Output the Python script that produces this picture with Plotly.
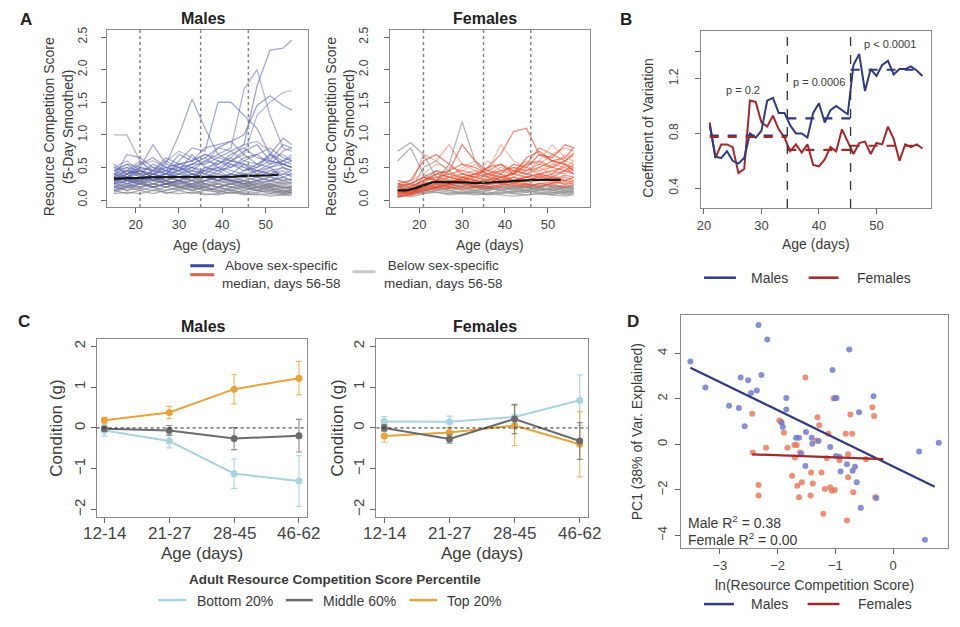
import plotly.graph_objects as go

# page body has an 8px default margin: size the figure so the page is exactly 960x627
OFF = 8
FW, FH = 960 - 2 * OFF, 627 - 2 * OFF
def px(x): return (x - OFF) / FW
def py(y): return 1 - (y - OFF) / FH

FONT = "Liberation Sans, Arial, sans-serif"
NARROW = "Liberation Sans Narrow, Arial Narrow, Liberation Sans, sans-serif"
TXT = "#3a3a3a"

# ---------------- Panel A data ----------------
ages_a = [15, 18, 21, 24, 27, 30, 33, 36, 39, 42, 45, 48, 51, 54, 56]
male_above = [
    [0.35, 0.45, 0.40, 0.40, 0.45, 0.50, 0.55, 0.55, 0.65, 0.75, 0.85, 1.75, 2.30, 2.33, 2.45],
    [0.30, 0.35, 0.45, 0.50, 0.40, 0.45, 0.50, 0.60, 0.70, 0.80, 1.70, 2.00, 1.30, 0.80, 0.75],
    [0.40, 0.50, 0.45, 0.40, 0.55, 1.00, 1.55, 1.10, 0.70, 0.60, 0.55, 0.50, 0.60, 0.55, 0.50],
    [0.30, 0.35, 0.50, 0.45, 0.40, 0.60, 0.80, 0.75, 1.50, 1.50, 1.30, 1.10, 0.70, 0.60, 0.55],
    [0.25, 0.30, 0.35, 0.45, 0.50, 0.55, 0.60, 0.70, 0.65, 0.60, 0.70, 1.30, 1.50, 1.65, 1.68],
    [0.35, 0.30, 0.30, 0.40, 0.50, 0.45, 0.55, 0.65, 0.80, 0.90, 1.00, 1.45, 1.60, 1.45, 1.38],
    [1.00, 1.00, 0.60, 0.45, 0.40, 0.35, 0.40, 0.35, 0.30, 0.35, 0.40, 0.35, 0.45, 0.50, 0.45],
    [0.45, 0.55, 0.50, 0.85, 0.55, 0.50, 0.45, 0.60, 0.55, 0.70, 0.80, 0.65, 0.60, 0.85, 0.80],
    [0.35, 0.70, 0.65, 0.50, 0.45, 0.70, 0.60, 0.80, 0.85, 0.90, 0.70, 0.55, 0.70, 0.95, 0.85],
    [0.50, 0.60, 0.45, 0.35, 0.60, 0.75, 0.65, 0.55, 0.80, 0.75, 0.60, 0.55, 0.65, 0.70, 0.60],
    [0.30, 0.40, 0.55, 0.65, 0.50, 0.45, 0.70, 0.50, 0.45, 0.60, 0.75, 0.85, 0.60, 0.55, 0.50],
    [0.40, 0.45, 0.35, 0.30, 0.35, 0.50, 0.40, 0.45, 0.50, 0.45, 0.40, 0.45, 0.55, 0.75, 0.80],
    [0.20, 0.30, 0.25, 0.35, 0.30, 0.40, 0.35, 0.45, 0.40, 0.55, 0.50, 0.45, 0.40, 0.50, 0.45],
    [0.55, 0.40, 0.50, 0.45, 0.65, 0.55, 0.60, 0.70, 0.60, 0.50, 0.65, 0.70, 0.55, 0.60, 0.65],
    [0.25, 0.35, 0.30, 0.40, 0.45, 0.35, 0.45, 0.40, 0.55, 0.65, 0.85, 0.90, 0.75, 0.50, 0.40],
    [0.45, 0.35, 0.40, 0.55, 0.45, 0.40, 0.50, 0.45, 0.60, 0.55, 0.45, 0.50, 0.70, 0.55, 0.50],
    [0.30, 0.45, 0.60, 0.40, 0.35, 0.45, 0.55, 0.65, 0.50, 0.60, 0.55, 0.40, 0.50, 0.60, 0.70],
    [0.40, 0.30, 0.35, 0.45, 0.60, 0.50, 0.40, 0.35, 0.45, 0.50, 0.60, 0.70, 0.80, 0.65, 0.60],
    [0.25, 0.40, 0.45, 0.35, 0.40, 0.55, 0.50, 0.40, 0.35, 0.40, 0.35, 0.45, 0.40, 0.45, 0.35],
    [0.50, 0.45, 0.55, 0.60, 0.50, 0.45, 0.35, 0.50, 0.55, 0.65, 0.50, 0.40, 0.45, 0.40, 0.45],
    [0.35, 0.25, 0.30, 0.35, 0.25, 0.30, 0.40, 0.35, 0.30, 0.35, 0.45, 0.55, 0.50, 0.35, 0.30],
    [0.20, 0.25, 0.35, 0.30, 0.40, 0.35, 0.30, 0.50, 0.45, 0.35, 0.40, 0.35, 0.30, 0.40, 0.38],
    [0.45, 0.55, 0.40, 0.30, 0.35, 0.40, 0.45, 0.40, 0.50, 0.40, 0.55, 0.45, 0.50, 0.55, 0.60],
    [0.15, 0.22, 0.28, 0.20, 0.25, 0.30, 0.22, 0.28, 0.35, 0.30, 0.25, 0.30, 0.28, 0.35, 0.40],
    [0.28, 0.20, 0.18, 0.25, 0.20, 0.25, 0.30, 0.25, 0.20, 0.28, 0.35, 0.30, 0.35, 0.30, 0.32],
]
male_below = [
    [0.30, 0.25, 0.20, 0.25, 0.20, 0.15, 0.20, 0.25, 0.20, 0.15, 0.20, 0.15, 0.10, 0.15, 0.10],
    [0.20, 0.15, 0.25, 0.20, 0.10, 0.15, 0.10, 0.15, 0.20, 0.15, 0.10, 0.12, 0.15, 0.10, 0.12],
    [0.40, 0.35, 0.30, 0.35, 0.30, 0.25, 0.35, 0.30, 0.25, 0.30, 0.25, 0.20, 0.25, 0.20, 0.18],
    [0.15, 0.20, 0.15, 0.10, 0.15, 0.20, 0.15, 0.10, 0.08, 0.12, 0.10, 0.08, 0.10, 0.08, 0.10],
    [0.35, 0.45, 0.40, 0.30, 0.35, 0.30, 0.25, 0.30, 0.35, 0.30, 0.25, 0.30, 0.20, 0.25, 0.22],
    [0.25, 0.30, 0.35, 0.25, 0.20, 0.25, 0.30, 0.20, 0.15, 0.20, 0.25, 0.15, 0.20, 0.15, 0.14],
    [0.45, 0.50, 0.35, 0.30, 0.25, 0.30, 0.20, 0.25, 0.30, 0.25, 0.30, 0.25, 0.30, 0.25, 0.28],
    [0.10, 0.12, 0.10, 0.15, 0.12, 0.10, 0.12, 0.08, 0.10, 0.12, 0.08, 0.10, 0.06, 0.08, 0.07],
    [0.30, 0.35, 0.45, 0.40, 0.30, 0.20, 0.25, 0.35, 0.30, 0.40, 0.35, 0.30, 0.35, 0.30, 0.32],
    [0.20, 0.25, 0.30, 0.40, 0.35, 0.30, 0.35, 0.25, 0.20, 0.25, 0.30, 0.20, 0.15, 0.20, 0.16],
    [0.50, 0.40, 0.45, 0.35, 0.40, 0.35, 0.30, 0.35, 0.40, 0.35, 0.30, 0.35, 0.30, 0.35, 0.30],
    [0.15, 0.10, 0.15, 0.20, 0.25, 0.20, 0.15, 0.20, 0.25, 0.20, 0.15, 0.20, 0.25, 0.18, 0.20],
    [0.25, 0.20, 0.25, 0.30, 0.25, 0.20, 0.15, 0.20, 0.15, 0.10, 0.15, 0.20, 0.15, 0.12, 0.15],
    [0.35, 0.30, 0.25, 0.20, 0.25, 0.30, 0.25, 0.20, 0.25, 0.20, 0.18, 0.15, 0.20, 0.22, 0.20],
    [0.18, 0.22, 0.20, 0.25, 0.30, 0.25, 0.20, 0.15, 0.18, 0.25, 0.20, 0.25, 0.18, 0.15, 0.16],
    [0.40, 0.30, 0.30, 0.25, 0.30, 0.35, 0.30, 0.25, 0.20, 0.25, 0.20, 0.25, 0.22, 0.28, 0.25],
    [0.12, 0.18, 0.25, 0.20, 0.15, 0.18, 0.22, 0.18, 0.12, 0.15, 0.12, 0.15, 0.12, 0.10, 0.12],
    [0.28, 0.35, 0.30, 0.20, 0.25, 0.20, 0.25, 0.30, 0.35, 0.28, 0.22, 0.18, 0.22, 0.18, 0.20],
    [0.22, 0.15, 0.18, 0.15, 0.20, 0.28, 0.20, 0.15, 0.12, 0.18, 0.22, 0.28, 0.25, 0.30, 0.26],
    [0.32, 0.40, 0.28, 0.32, 0.28, 0.22, 0.18, 0.22, 0.28, 0.32, 0.28, 0.22, 0.18, 0.12, 0.14],
]
female_above = [
    [0.20, 0.25, 0.35, 0.45, 0.40, 0.35, 0.40, 0.50, 0.70, 1.05, 1.10, 0.70, 0.60, 0.55, 0.50],
    [0.15, 0.20, 0.70, 0.60, 0.85, 0.55, 0.45, 0.40, 0.50, 0.45, 0.60, 0.55, 0.70, 0.80, 0.75],
    [0.10, 0.15, 0.30, 0.40, 0.45, 0.85, 0.60, 0.45, 0.40, 0.55, 0.50, 0.70, 0.65, 0.85, 0.80],
    [0.20, 0.30, 0.40, 0.55, 0.50, 0.45, 0.55, 0.45, 0.85, 0.60, 0.50, 0.45, 0.55, 0.60, 0.55],
    [0.10, 0.10, 0.25, 0.30, 0.35, 0.40, 0.35, 0.40, 0.45, 0.40, 0.55, 0.80, 0.70, 0.60, 0.70],
    [0.05, 0.10, 0.20, 0.25, 0.30, 0.30, 0.35, 0.30, 0.35, 0.40, 0.35, 0.40, 0.45, 0.50, 0.40],
    [0.25, 0.20, 0.30, 0.35, 0.30, 0.40, 0.45, 0.35, 0.30, 0.35, 0.45, 0.50, 0.40, 0.45, 0.50],
    [0.15, 0.10, 0.20, 0.30, 0.25, 0.30, 0.25, 0.30, 0.40, 0.30, 0.35, 0.30, 0.35, 0.30, 0.35],
    [0.30, 0.25, 0.15, 0.25, 0.35, 0.50, 0.60, 0.45, 0.35, 0.50, 0.45, 0.60, 0.85, 0.65, 0.60],
    [0.10, 0.15, 0.25, 0.20, 0.25, 0.20, 0.30, 0.25, 0.30, 0.25, 0.30, 0.35, 0.30, 0.35, 0.30],
    [0.20, 0.15, 0.35, 0.30, 0.20, 0.35, 0.30, 0.40, 0.30, 0.45, 0.40, 0.35, 0.40, 0.55, 0.45],
    [0.05, 0.08, 0.15, 0.20, 0.30, 0.25, 0.20, 0.25, 0.30, 0.35, 0.25, 0.30, 0.30, 0.25, 0.30],
    [0.25, 0.30, 0.60, 0.70, 0.55, 0.40, 0.35, 0.50, 0.55, 0.40, 0.65, 0.75, 0.60, 0.65, 0.80],
    [0.10, 0.20, 0.20, 0.25, 0.40, 0.30, 0.35, 0.60, 0.45, 0.50, 0.40, 0.45, 0.50, 0.70, 0.65],
    [0.15, 0.20, 0.30, 0.35, 0.40, 0.45, 0.40, 0.35, 0.45, 0.50, 0.45, 0.55, 0.50, 0.45, 0.55],
    [0.10, 0.15, 0.25, 0.40, 0.35, 0.30, 0.40, 0.45, 0.55, 0.45, 0.40, 0.50, 0.60, 0.55, 0.45],
    [0.20, 0.10, 0.20, 0.25, 0.35, 0.30, 0.25, 0.35, 0.30, 0.40, 0.50, 0.40, 0.45, 0.40, 0.50],
    [0.08, 0.12, 0.20, 0.30, 0.25, 0.35, 0.30, 0.25, 0.35, 0.30, 0.35, 0.40, 0.35, 0.45, 0.40],
    [0.15, 0.18, 0.28, 0.35, 0.30, 0.25, 0.35, 0.40, 0.35, 0.30, 0.40, 0.35, 0.55, 0.50, 0.60],
    [0.12, 0.10, 0.18, 0.22, 0.28, 0.32, 0.28, 0.32, 0.28, 0.35, 0.30, 0.38, 0.32, 0.38, 0.35],
    [0.22, 0.25, 0.35, 0.30, 0.45, 0.55, 0.50, 0.40, 0.35, 0.40, 0.55, 0.60, 0.50, 0.60, 0.72],
    [0.05, 0.12, 0.25, 0.28, 0.22, 0.28, 0.35, 0.30, 0.25, 0.30, 0.28, 0.32, 0.38, 0.30, 0.35],
    [0.06, 0.08, 0.14, 0.20, 0.18, 0.22, 0.20, 0.18, 0.22, 0.25, 0.22, 0.25, 0.28, 0.24, 0.26],
    [0.10, 0.06, 0.10, 0.16, 0.22, 0.18, 0.24, 0.22, 0.18, 0.22, 0.26, 0.22, 0.24, 0.28, 0.25],
    [0.04, 0.10, 0.18, 0.24, 0.20, 0.16, 0.20, 0.24, 0.26, 0.22, 0.20, 0.26, 0.22, 0.20, 0.24],
    [0.14, 0.12, 0.16, 0.18, 0.24, 0.26, 0.22, 0.20, 0.24, 0.28, 0.24, 0.20, 0.26, 0.30, 0.28],
]
female_below = [
    [0.75, 0.88, 0.70, 0.35, 0.30, 0.25, 0.20, 0.15, 0.20, 0.15, 0.20, 0.15, 0.20, 0.15, 0.18],
    [0.60, 0.80, 0.40, 0.30, 0.55, 1.20, 0.60, 0.35, 0.25, 0.20, 0.15, 0.20, 0.15, 0.12, 0.15],
    [0.20, 0.15, 0.50, 0.60, 0.45, 0.30, 0.25, 0.20, 0.15, 0.20, 0.25, 0.20, 0.15, 0.20, 0.18],
    [0.10, 0.08, 0.12, 0.15, 0.12, 0.10, 0.08, 0.10, 0.12, 0.10, 0.08, 0.10, 0.12, 0.08, 0.10],
    [0.15, 0.12, 0.10, 0.15, 0.20, 0.15, 0.12, 0.10, 0.15, 0.12, 0.15, 0.10, 0.08, 0.12, 0.10],
    [0.20, 0.25, 0.20, 0.15, 0.18, 0.20, 0.15, 0.12, 0.10, 0.15, 0.12, 0.15, 0.18, 0.15, 0.12],
    [0.05, 0.10, 0.15, 0.12, 0.10, 0.12, 0.10, 0.08, 0.10, 0.12, 0.15, 0.12, 0.10, 0.15, 0.12],
    [0.30, 0.25, 0.20, 0.25, 0.20, 0.25, 0.22, 0.20, 0.18, 0.20, 0.25, 0.22, 0.20, 0.22, 0.20],
    [0.12, 0.15, 0.20, 0.18, 0.15, 0.10, 0.12, 0.15, 0.20, 0.18, 0.15, 0.18, 0.15, 0.12, 0.15],
    [0.25, 0.20, 0.30, 0.45, 0.35, 0.30, 0.20, 0.25, 0.20, 0.18, 0.20, 0.22, 0.25, 0.20, 0.22],
    [0.12, 0.10, 0.15, 0.18, 0.15, 0.12, 0.15, 0.18, 0.15, 0.10, 0.12, 0.15, 0.12, 0.10, 0.12],
    [0.18, 0.22, 0.18, 0.20, 0.22, 0.18, 0.15, 0.18, 0.20, 0.22, 0.18, 0.20, 0.22, 0.18, 0.16],
    [0.08, 0.05, 0.10, 0.12, 0.08, 0.10, 0.12, 0.10, 0.08, 0.06, 0.08, 0.10, 0.08, 0.06, 0.08],
    [0.25, 0.15, 0.12, 0.20, 0.25, 0.20, 0.18, 0.22, 0.15, 0.18, 0.20, 0.15, 0.18, 0.20, 0.18],
    [0.15, 0.20, 0.25, 0.20, 0.15, 0.18, 0.20, 0.15, 0.18, 0.22, 0.20, 0.18, 0.15, 0.18, 0.20],
]
ages_mean = [15, 17, 19, 21, 23, 25, 27, 29, 31, 33, 35, 37, 39, 41, 43, 45, 47, 49, 51, 53]
male_mean = [0.33, 0.33, 0.34, 0.34, 0.35, 0.35, 0.35, 0.35, 0.35, 0.35, 0.35, 0.35, 0.36, 0.36,
             0.36, 0.37, 0.37, 0.38, 0.38, 0.39]
female_mean = [0.15, 0.15, 0.18, 0.22, 0.27, 0.28, 0.28, 0.27, 0.27, 0.26, 0.26, 0.27, 0.28, 0.29,
               0.30, 0.30, 0.31, 0.31, 0.31, 0.31]
period_lines_a = [21, 35, 46]

# ---------------- Panel B data ----------------
ages_b = list(range(21, 59))
cv_male = [0.86, 0.63, 0.62, 0.67, 0.60, 0.58, 0.62, 0.80, 0.77, 0.82, 1.04, 1.06, 0.95, 0.95,
           0.86, 0.80, 0.80, 0.77, 0.95, 1.02, 0.88, 0.97, 1.00, 0.97, 0.94, 1.30, 1.38, 1.11,
           1.27, 1.22, 1.30, 1.33, 1.23, 1.27, 1.27, 1.29, 1.26, 1.22]
cv_female = [0.88, 0.62, 0.72, 0.72, 0.70, 0.51, 0.54, 1.04, 1.03, 0.88, 0.85, 0.93, 0.83, 0.77,
             0.67, 0.72, 0.66, 0.72, 0.57, 0.56, 0.61, 0.70, 0.67, 0.83, 0.74, 0.65, 0.73, 0.74,
             0.65, 0.73, 0.72, 0.85, 0.76, 0.60, 0.72, 0.70, 0.72, 0.69]
period_bounds_b = [21, 34.5, 45.5, 58]
cv_male_means = [0.785, 0.91, 1.265]
cv_female_means = [0.775, 0.68, 0.71]
p_labels = ["p = 0.2", "p = 0.0006", "p < 0.0001"]

# ---------------- Panel C data ----------------
age_groups = ["12-14", "21-27", "28-45", "46-62"]
pct_groups = ["Bottom 20%", "Middle 60%", "Top 20%"]
cond_male = {
    "Bottom 20%": [-0.06, -0.32, -1.12, -1.30],
    "Middle 60%": [-0.02, -0.06, -0.26, -0.19],
    "Top 20%": [0.19, 0.38, 0.95, 1.22],
}
cond_male_err = {
    "Bottom 20%": [0.14, 0.17, 0.36, 0.62],
    "Middle 60%": [0.06, 0.12, 0.27, 0.40],
    "Top 20%": [0.07, 0.15, 0.36, 0.41],
}
cond_female = {
    "Bottom 20%": [0.16, 0.15, 0.27, 0.68],
    "Middle 60%": [0.00, -0.27, 0.22, -0.32],
    "Top 20%": [-0.20, -0.11, 0.06, -0.40],
}
cond_female_err = {
    "Bottom 20%": [0.12, 0.14, 0.30, 0.62],
    "Middle 60%": [0.08, 0.10, 0.36, 0.45],
    "Top 20%": [0.15, 0.12, 0.49, 0.80],
}

# ---------------- Panel D data ----------------
male_lnrcs = [-3.51, -3.25, -2.84, -2.67, -2.64, -2.51, -2.57, -2.46, -2.36, -2.33, -2.28, -2.18,
              -1.93, -1.91, -1.85, -1.85, -1.68, -1.63, -1.59, -1.52, -1.51, -1.41, -1.40, -1.29,
              -1.09, -1.05, -1.01, -0.98, -0.99, -0.93, -0.91, -0.80, -0.76, -0.70, -0.66, -0.63,
              -0.59, -0.56, -0.34, -0.29, 0.45, 0.55, 0.79]
male_pc1 = [3.64, 2.50, 1.70, 1.60, 2.94, 2.82, 0.79, 2.25, 2.36, 5.24, 3.05, 4.61,
            0.95, 0.76, 2.04, 1.53, 0.29, 0.29, -0.41, -0.95, 0.54, 0.29, 0.03, 0.15,
            -0.12, 3.27, 2.04, 2.04, -0.51, -0.55, -1.19, -0.87, 4.17, -1.16, -0.99, -1.67,
            1.41, -2.79, 2.11, -2.36, -0.32, -4.19, 0.07]
female_lnrcs = [-2.44, -2.43, -2.33, -2.33, -2.20, -1.97, -1.94, -1.89, -1.83, -1.75, -1.71, -1.70,
                -1.67, -1.66, -1.63, -1.61, -1.58, -1.52, -1.43, -1.42, -1.39, -1.33, -1.31, -1.28,
                -1.24, -1.21, -1.18, -1.15, -1.12, -1.09, -1.06, -1.03, -1.01, -0.93, -0.82, -0.80,
                -0.78, -0.78, -0.74, -0.71, -0.69, -0.47, -0.36, -0.33, -0.31]
female_pc1 = [1.34, -0.36, -1.79, -2.25, -0.15, 1.05, 0.99, 0.51, -0.15, -1.38, -0.03, -0.58,
              -0.03, -1.82, -2.33, -0.36, -1.67, 2.94, -2.25, -1.24, -1.72, 0.17, 1.19, 0.84,
              -1.24, -3.05, -1.96, -0.61, 0.47, -1.89, -2.04, 2.01, -2.01, -0.70, 0.47, -3.35,
              -0.44, -1.45, 1.31, 0.47, -2.11, -0.65, 1.63, 1.24, -2.33]
male_fit = {"intercept": -0.97, "slope": -1.236, "x": [-3.51, 0.72]}
female_fit = {"intercept": -0.666, "slope": -0.0925, "x": [-2.44, -0.17]}
r2_labels = ["Male R<sup>2</sup> = 0.38", "Female R<sup>2</sup> = 0.00"]

# ---------------- colours ----------------
C_MALE = "#2f3a82"
C_FEMALE = "#a3282c"
blue_pal = ["rgba(85,95,180,0.55)", "rgba(110,115,185,0.55)", "rgba(95,105,170,0.55)",
            "rgba(75,85,190,0.50)", "rgba(125,130,180,0.55)"]
red_pal = ["rgba(235,70,40,0.60)", "rgba(240,120,90,0.55)", "rgba(230,50,30,0.60)",
           "rgba(245,140,110,0.55)", "rgba(225,90,60,0.60)"]
gray_m = "rgba(125,125,140,0.60)"
gray_f = "rgba(150,150,150,0.70)"
pct_colors = {"Bottom 20%": "#a9d3df", "Middle 60%": "#6b6b6b", "Top 20%": "#e6a43c"}
pct_err_colors = {"Bottom 20%": "rgba(169,211,223,0.9)", "Middle 60%": "rgba(107,107,107,0.75)",
                  "Top 20%": "rgba(230,164,60,0.75)"}

fig = go.Figure()

# Panel A
for x_ax, y_ax, below, above, pal, gcol, mean in [
    ("x", "y", male_below, male_above, blue_pal, gray_m, male_mean),
    ("x2", "y2", female_below, female_above, red_pal, gray_f, female_mean),
]:
    for vals in below:
        fig.add_trace(go.Scatter(x=ages_a, y=vals, mode="lines", xaxis=x_ax, yaxis=y_ax,
                                 line=dict(color=gcol, width=1.3), showlegend=False, hoverinfo="skip"))
    for i, vals in enumerate(above):
        fig.add_trace(go.Scatter(x=ages_a, y=vals, mode="lines", xaxis=x_ax, yaxis=y_ax,
                                 line=dict(color=pal[i % len(pal)], width=1.3), showlegend=False,
                                 hoverinfo="skip"))
    fig.add_trace(go.Scatter(x=ages_mean, y=mean, mode="lines", xaxis=x_ax, yaxis=y_ax,
                             line=dict(color="#151515", width=2.2), showlegend=False))

# Panel B
fig.add_trace(go.Scatter(x=ages_b, y=cv_female, mode="lines", xaxis="x3", yaxis="y3",
                         line=dict(color=C_FEMALE, width=2), showlegend=False))
fig.add_trace(go.Scatter(x=ages_b, y=cv_male, mode="lines", xaxis="x3", yaxis="y3",
                         line=dict(color=C_MALE, width=2), showlegend=False))
for i in range(3):
    seg = [period_bounds_b[i], period_bounds_b[i + 1]]
    fig.add_trace(go.Scatter(x=seg, y=[cv_male_means[i]] * 2, mode="lines", xaxis="x3", yaxis="y3",
                             line=dict(color=C_MALE, width=2.2, dash="dash"), showlegend=False))
    fig.add_trace(go.Scatter(x=seg, y=[cv_female_means[i]] * 2, mode="lines", xaxis="x3", yaxis="y3",
                             line=dict(color=C_FEMALE, width=2.2, dash="dash"), showlegend=False))

# Panel C
xc = [1, 2, 3, 4]
for x_ax, y_ax, vals, errs in [("x4", "y4", cond_male, cond_male_err),
                               ("x5", "y5", cond_female, cond_female_err)]:
    for g in ["Bottom 20%", "Top 20%", "Middle 60%"]:
        fig.add_trace(go.Scatter(
            x=xc, y=vals[g], mode="lines+markers", xaxis=x_ax, yaxis=y_ax,
            line=dict(color=pct_colors[g], width=2), marker=dict(size=7, color=pct_colors[g]),
            error_y=dict(type="data", array=errs[g], visible=True, color=pct_err_colors[g],
                         thickness=1.2, width=3),
            showlegend=False))

# Panel D
fig.add_trace(go.Scatter(x=female_lnrcs, y=female_pc1, mode="markers", xaxis="x6", yaxis="y6",
                         marker=dict(size=6, color="rgba(232,125,95,0.85)"), showlegend=False))
fig.add_trace(go.Scatter(x=male_lnrcs, y=male_pc1, mode="markers", xaxis="x6", yaxis="y6",
                         marker=dict(size=6, color="rgba(115,125,205,0.85)"), showlegend=False))
for fit, col in [(male_fit, C_MALE), (female_fit, C_FEMALE)]:
    fx = fit["x"]
    fy = [fit["intercept"] + fit["slope"] * v for v in fx]
    fig.add_trace(go.Scatter(x=fx, y=fy, mode="lines", xaxis="x6", yaxis="y6",
                             line=dict(color=col, width=2.2), showlegend=False))


def ax(domain, rng, tickvals, ticktext=None, size=12, angle=0, anchor=None, standoff=0,
       showlabels=True):
    d = dict(domain=domain, range=rng, tickmode="array", tickvals=tickvals,
             ticks="outside", ticklen=5, tickcolor="#666", tickwidth=1,
             showline=True, linecolor="#8a8a8a", linewidth=1, mirror=True,
             showgrid=False, zeroline=False, anchor=anchor, tickangle=angle,
             showticklabels=showlabels, ticklabelstandoff=standoff,
             tickfont=dict(size=size, color="#444", family=FONT))
    if ticktext is not None:
        d["ticktext"] = ticktext
    return d


ya_vals = [0, 0.5, 1.0, 1.5, 2.0, 2.5]
ya_text = ["0.0", "0.5", "1.0", "1.5", "2.0", "2.5"]

fig.update_layout(
    width=FW, height=FH, margin=dict(l=0, r=0, t=0, b=0),
    paper_bgcolor="white", plot_bgcolor="white",
    font=dict(family=FONT, color=TXT),
    xaxis=ax([px(103), px(305)], [13.3, 59.7], [20, 30, 40, 50], size=13, anchor="y"),
    yaxis=ax([py(205), py(27)], [-0.107, 2.61], ya_vals, ya_text, size=12, angle=-90, anchor="x",
             standoff=9),
    xaxis2=ax([px(388), px(588)], [13.3, 59.7], [20, 30, 40, 50], size=13, anchor="y2"),
    yaxis2=ax([py(205), py(27)], [-0.107, 2.61], ya_vals, ya_text, size=12, angle=-90, anchor="x2",
              standoff=12),
    xaxis3=ax([px(700), px(931)], [19.5, 59.5], [20, 30, 40, 50], size=13, anchor="y3"),
    yaxis3=ax([py(206), py(28)], [0.255, 1.549], [0.4, 0.8, 1.2, 1.4], ["0.4", "0.8", "1.2", ""],
              size=12, angle=-90, anchor="x3", standoff=12),
    xaxis4=ax([px(93), px(304)], [0.88, 4.12], xc, age_groups, size=17, anchor="y4",
              showlabels=False),
    yaxis4=ax([py(516), py(338)], [-2.17, 2.17], [-2, -1, 0, 1, 2], size=15, angle=-90, anchor="x4"),
    xaxis5=ax([px(374), px(586)], [0.88, 4.12], xc, age_groups, size=17, anchor="y5",
              showlabels=False),
    yaxis5=ax([py(516), py(338)], [-2.17, 2.17], [-2, -1, 0, 1, 2], size=15, angle=-90, anchor="x5"),
    xaxis6=ax([px(680), px(948)], [-3.67, 0.95], [-3, -2, -1, 0], size=13, anchor="y6"),
    yaxis6=ax([py(548), py(314)], [-4.57, 5.66], [-4, -2, 0, 2, 4], size=13, angle=-90, anchor="x6",
              standoff=3),
)

shapes = []
# Panel A period lines
for xr, yr in [("x", "y domain"), ("x2", "y2 domain")]:
    for v in period_lines_a:
        shapes.append(dict(type="line", xref=xr, yref=yr, x0=v, x1=v, y0=0, y1=1,
                           line=dict(color="#888", width=1.5, dash="dot")))
# Panel B boundaries
for v in period_bounds_b[1:3]:
    shapes.append(dict(type="line", xref="x3", yref="y3 domain", x0=v, x1=v, y0=0, y1=1,
                       line=dict(color="#333", width=1.3, dash="dash")))
# Panel C zero lines
for xr, yr in [("x4 domain", "y4"), ("x5 domain", "y5")]:
    shapes.append(dict(type="line", xref=xr, yref=yr, x0=0, x1=1, y0=0, y1=0,
                       line=dict(color="#222", width=1, dash="dot")))


def key(x0, x1, y, col, w=3):
    shapes.append(dict(type="line", xref="paper", yref="paper", x0=px(x0), x1=px(x1),
                       y0=py(y), y1=py(y), line=dict(color=col, width=w)))


# legend keys
key(187, 211, 264, "#3b4a9a")
key(187, 211, 273, "#e0604a")
key(350, 373, 270, "#c8c8c8")
key(703, 735, 276, C_MALE, 2.5)
key(808, 838, 276, C_FEMALE, 2.5)
key(155, 183, 600, pct_colors["Bottom 20%"], 2.5)
key(283, 310, 600, pct_colors["Middle 60%"], 2.5)
key(407, 435, 600, pct_colors["Top 20%"], 2.5)
key(703, 733, 604, C_MALE, 2.5)
key(807, 839, 604, C_FEMALE, 2.5)

fig.update_layout(shapes=shapes)

ann = []


def text(x, y, s, size=13, bold=False, angle=0, xanchor="center", family=FONT, color=TXT):
    ann.append(dict(x=px(x), y=py(y), xref="paper", yref="paper", text=f"<b>{s}</b>" if bold else s,
                    showarrow=False, xanchor=xanchor, yanchor="middle", textangle=angle,
                    font=dict(size=size, family=family, color=color)))


# panel letters
text(22, 17, "A", 17, True, family=NARROW, color="#222")
text(625, 17, "B", 17, True, family=NARROW, color="#222")
text(20, 320, "C", 17, True, family=NARROW, color="#222")
text(632, 320, "D", 17, True, family=NARROW, color="#222")
# Panel A
text(200, 16, "Males", 16, True, family=NARROW, color="#222")
text(483, 16, "Females", 16, True, family=NARROW, color="#222")
text(55, 124, "Resource Competition Score<br>(5-Day Smoothed)", 14, angle=-90)
text(338, 124, "Resource Competition Score<br>(5-Day Smoothed)", 14, angle=-90)
text(204, 243, "Age (days)", 14)
text(488, 243, "Age (days)", 14)
text(217, 273, "Above sex-specific<br>median, days 56-58", 13.5, xanchor="left")
text(380, 273, "Below sex-specific<br>median, days 56-58", 13.5, xanchor="left")
# Panel B
text(647, 125, "Coefficient of Variation", 14, angle=-90)
text(815, 242, "Age (days)", 14)
text(742, 87, p_labels[0], 11)
text(818, 79, p_labels[1], 11)
text(890, 41, p_labels[2], 11)
text(748, 276, "Males", 14, xanchor="left")
text(855, 276, "Females", 14, xanchor="left")
# Panel C
text(200, 325, "Males", 16, True, family=NARROW, color="#222")
text(483, 325, "Females", 16, True, family=NARROW, color="#222")
text(53, 427, "Condition (g)", 17, angle=-90)
text(335, 427, "Condition (g)", 17, angle=-90)
for xa in ["x4", "x5"]:
    for xv, lab in zip(xc, age_groups):
        ann.append(dict(x=xv, y=py(533), xref=xa, yref="paper", text=lab, showarrow=False,
                        xanchor="center", yanchor="middle",
                        font=dict(size=17, family=FONT, color="#444")))
text(199, 553, "Age (days)", 17)
text(480, 553, "Age (days)", 17)
text(332, 579, "Adult Resource Competition Score Percentile", 13.5, True)
text(192, 601, pct_groups[0], 14, xanchor="left")
text(318, 601, pct_groups[1], 14, xanchor="left")
text(443, 601, pct_groups[2], 14, xanchor="left")
# Panel D
text(636, 431, "PC1 (38% of Var. Explained)", 14, angle=-90)
text(814, 585, "ln(Resource Competition Score)", 14)
text(685, 522, r2_labels[0], 14, xanchor="left")
text(685, 539, r2_labels[1], 14, xanchor="left")
text(748, 604, "Males", 14, xanchor="left")
text(856, 604, "Females", 14, xanchor="left")

fig.update_layout(annotations=ann)

fig.write_html("out.html")
